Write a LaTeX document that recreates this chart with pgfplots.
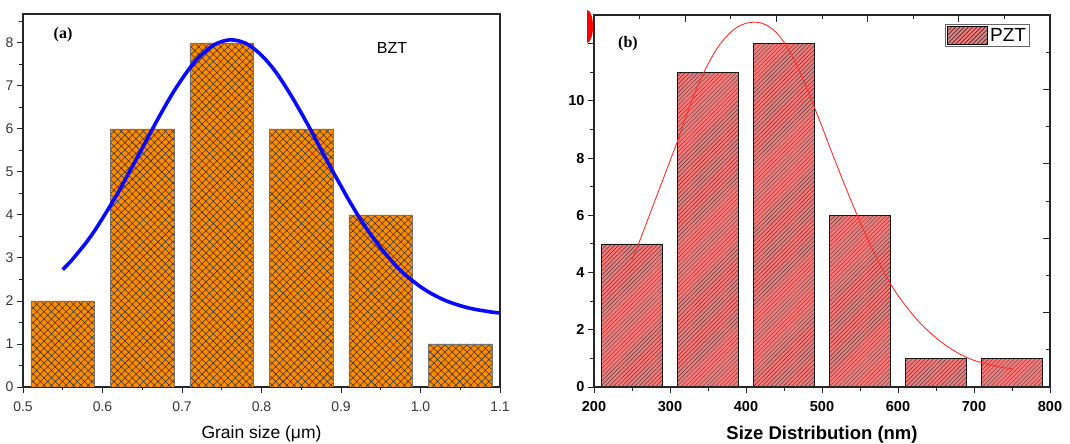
\documentclass[border=0pt]{standalone}
\usepackage{pgfplots}
\pgfplotsset{compat=1.18}
\usepackage{fontspec}
\setmainfont{Liberation Sans}
\newfontfamily\timesfont{Liberation Serif}
\usetikzlibrary{patterns.meta}
\definecolor{barorange}{RGB}{255,140,0}
\definecolor{barred}{RGB}{250,120,120}
\definecolor{curveblue}{RGB}{10,10,250}
\definecolor{curvered}{RGB}{255,45,45}
\definecolor{ticktext}{RGB}{55,55,55}
\begin{document}
\begin{tikzpicture}[x=1pt,y=1pt]
\useasboundingbox (0,0) rectangle (1070,444);
% ---------------- (a) BZT ----------------
\begin{axis}[
  at={(23pt,57pt)}, anchor=south west,
  width=477pt, height=373pt, scale only axis,
  xmin=0.5, xmax=1.1, ymin=0, ymax=8.67,
  xtick={0.5,0.6,0.7,0.8,0.9,1.0,1.1},
  xticklabels={0.5,0.6,0.7,0.8,0.9,1.0,1.1},
  minor xtick={0.55,0.65,0.75,0.85,0.95,1.05},
  ytick={0,1,2,3,4,5,6,7,8},
  minor ytick={0.5,1.5,2.5,3.5,4.5,5.5,6.5,7.5,8.5},
  xtick pos=bottom, ytick pos=left,
  tick align=outside,
  major tick length=6pt, minor tick length=3.5pt,
  every tick/.style={black!85, line width=0.9pt},
  axis line style={black!85, line width=1.3pt},
  /pgf/number format/assume math mode=true,
  tick label style={font=\fontsize{14}{16}\selectfont, text=ticktext},
  xticklabel style={yshift=-5pt},
  xlabel={Grain size (μm)},
  xlabel style={font=\fontsize{17.5}{20}\selectfont, yshift=-7.5pt},
  clip=true,
]
\addplot[ybar, bar width=0.08, bar shift=0pt, draw=black!55, line width=0.5pt,
  fill=barorange,
  postaction={pattern={Hatch[angle=45,distance=5.2pt,line width=0.55pt]}, pattern color=black!80}]
  coordinates {(0.55,2) (0.65,6) (0.75,8) (0.85,6) (0.95,4) (1.05,1)};
\addplot[curveblue, line width=3.6pt, smooth] coordinates {
(0.55,2.73) (0.56,2.92) (0.57,3.14) (0.58,3.37) (0.59,3.63) (0.60,3.92)
(0.61,4.22) (0.62,4.53) (0.63,4.87) (0.64,5.21) (0.65,5.55) (0.66,5.90)
(0.67,6.24) (0.68,6.57) (0.69,6.88) (0.70,7.16) (0.71,7.42) (0.72,7.64)
(0.73,7.81) (0.74,7.95) (0.75,8.03) (0.76,8.07) (0.77,8.05) (0.78,7.99)
(0.79,7.87) (0.80,7.71) (0.81,7.51) (0.82,7.27) (0.83,6.99) (0.84,6.69)
(0.85,6.37) (0.86,6.04) (0.87,5.69) (0.88,5.34) (0.89,5.00) (0.90,4.67)
(0.91,4.34) (0.92,4.03) (0.93,3.74) (0.94,3.48) (0.95,3.23) (0.96,3.01)
(0.97,2.80) (0.98,2.62) (0.99,2.47) (1.00,2.33) (1.01,2.21) (1.02,2.11)
(1.03,2.02) (1.04,1.95) (1.05,1.89) (1.06,1.84) (1.07,1.80) (1.08,1.77)
(1.09,1.74) (1.10,1.72)};
\end{axis}
\node[font=\timesfont\bfseries\fontsize{16}{18}\selectfont] at (63,409) {(a)};
\node[font=\fontsize{16}{18}\selectfont] at (392,395.5) {BZT};
% ---------------- (b) PZT ----------------
\begin{axis}[
  at={(594pt,57pt)}, anchor=south west,
  width=456pt, height=372pt, scale only axis,
  xmin=200, xmax=800, ymin=0, ymax=13,
  xtick={200,300,400,500,600,700,800},
  minor xtick={250,350,450,550,650,750},
  ytick={0,2,4,6,8,10,12},
  yticklabels={0,2,4,6,8,10,{}},
  minor ytick={1,3,5,7,9,11},
  xtick pos=bottom, ytick pos=left,
  tick align=outside,
  major tick length=6pt, minor tick length=4pt,
  every tick/.style={black!85, line width=0.9pt},
  axis line style={black!85, line width=1.3pt},
  /pgf/number format/assume math mode=true,
  tick label style={font=\bfseries\fontsize{14.5}{16}\selectfont, text=black},
  xticklabel style={yshift=-5pt},
  xlabel={Size Distribution (nm)},
  xlabel style={font=\bfseries\fontsize{18.5}{20}\selectfont, yshift=-7pt},
  legend style={at={(0.956,0.976)}, anchor=north east, draw=black!60, line width=0.8pt,
    fill=white, inner sep=1.5pt, font=\fontsize{19}{21}\selectfont,
    legend cell align=left},
  legend image code/.code={%
    \draw[draw=black, line width=0.8pt, fill=barred,
      postaction={pattern={Lines[angle=45,distance=3pt,line width=0.45pt]}, pattern color=black!75}]
      (0pt,-9pt) rectangle (40pt,9pt);},
  clip=true,
]
\addplot[ybar, bar width=80, bar shift=0pt, draw=black!90, line width=0.8pt,
  fill=barred,
  postaction={pattern={Lines[angle=45,distance=3pt,line width=0.45pt]}, pattern color=black!75}]
  coordinates {(250,5) (350,11) (450,12) (550,6) (650,1) (750,1)};
\addlegendentry{PZT}
\addplot[curvered, line width=0.9pt, smooth, forget plot] coordinates {
(250,4.45) (260,5.10) (270,5.80) (280,6.50) (290,7.20) (300,7.90) (310,8.60)
(320,9.38) (330,10.10) (340,10.74) (350,11.28) (360,11.75) (370,12.12)
(380,12.40) (390,12.60) (400,12.71) (410,12.75) (420,12.72) (430,12.60)
(440,12.38) (450,12.05) (460,11.60) (470,11.05) (480,10.45) (490,9.77)
(500,9.10) (510,8.40) (520,7.72) (530,7.05) (540,6.40) (550,5.77)
(560,5.17) (570,4.61) (580,4.09) (590,3.61) (600,3.20) (610,2.84)
(620,2.51) (630,2.21) (640,1.95) (650,1.72) (660,1.51) (670,1.33)
(680,1.17) (690,1.04) (700,0.93) (710,0.85) (720,0.78) (730,0.72)
(740,0.67) (750,0.64)};
\end{axis}
% secondary frame ticks (top and right, inward)
\begin{axis}[
  at={(594pt,57pt)}, anchor=south west,
  width=456pt, height=372pt, scale only axis,
  xmin=0, xmax=10, ymin=0, ymax=10,
  xtick={2,4,6,8}, minor xtick={1,3,5,7,9},
  ytick={2,4,6,8}, minor ytick={1,3,5,7,9},
  xticklabels={}, yticklabels={},
  xtick pos=top, ytick pos=right,
  tick align=inside,
  major tick length=7pt, minor tick length=4pt,
  every tick/.style={black!85, line width=0.9pt},
  axis line style={black!85, line width=1.3pt},
]
\addplot[draw=none, forget plot] coordinates {(0,0)};
\end{axis}
\node[font=\timesfont\bfseries\fontsize{16}{18}\selectfont] at (628,400) {(b)};
\fill[red] (587,434) arc[start angle=90, end angle=-90, x radius=6, y radius=16.5] -- cycle;
\end{tikzpicture}
\end{document}
